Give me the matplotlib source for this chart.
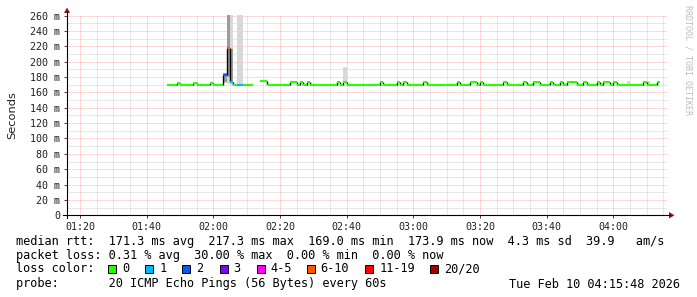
import numpy as np
import matplotlib
matplotlib.use('Agg')
import matplotlib.pyplot as plt
from matplotlib.patches import Rectangle, Polygon
from matplotlib.lines import Line2D

# ---------------- data ----------------
start_minute = 46          # minutes after 01:00 of first sample
median_ms = [
    170.3, 170.3, 170.3, 172.7, 170.3, 170.3, 170.3, 170.3, 172.7, 170.3,
    170.3, 170.3, 170.3, 172.7, 170.3, 170.3, 170.3,
    183.0, 217.3, 173.4,
    170.2, 170.2, 170.2, 170.2, 170.2, 170.2,
    np.nan, np.nan,
    174.5, 174.5,
    170.3, 170.3, 170.3, 170.3, 170.3, 170.3, 170.3,
    173.8, 173.8, 170.3, 173.8, 170.3, 173.8,
    170.3, 170.3, 170.3, 170.3, 170.3, 170.3, 170.3, 170.3,
    173.8, 170.3, 173.8,
    170.3, 170.3, 170.3, 170.3, 170.3, 170.3, 170.3, 170.3, 170.3, 170.3,
    173.8, 170.3, 170.3, 170.3, 170.3,
    173.8, 170.3, 173.8,
    170.3, 170.3, 170.3, 170.3, 170.3,
    173.8,
    170.3, 170.3, 170.3, 170.3, 170.3, 170.3, 170.3, 170.3, 170.3,
    173.8, 170.3, 170.3, 170.3,
    173.8, 173.8, 170.3, 173.8,
    170.3, 170.3, 170.3, 170.3, 170.3, 170.3,
    173.8, 170.3, 170.3, 170.3, 170.3, 170.3,
    173.8, 170.3, 170.3, 173.8, 173.8, 170.3, 170.3, 170.3,
    173.8, 170.3, 170.3, 173.8, 170.3,
    173.8, 173.8, 173.8, 170.3, 170.3,
    173.8, 170.3, 169.0, 169.0,
    173.8, 170.3, 173.8, 173.8, 170.3, 173.8,
    169.0, 169.0, 169.0,
    170.3, 170.3, 170.3, 170.3, 170.3,
    173.8, 169.0, 169.0, 169.0, 173.9,
]
loss_minutes = [63, 64, 65, 67, 68]
loss_counts = [2, 6, 1, 1, 1]

smoke_minutes = [63, 64, 65, 67, 68, 99, 184, 190]
smoke_min = [172.5, 171.0, 170.0, 170.0, 170.0, 172.0, 169.0, 168.5]
smoke_max = [185.0, 400.0, 400.0, 400.0, 400.0, 193.0, 175.5, 174.5]
smoke_q_lo = [173.0, 180.0, 172.0, 170.0, 170.0, 173.5, 170.0, 169.0]
smoke_q_hi = [185.0, 400.0, 216.0, 170.5, 170.5, 174.0, 170.5, 169.5]

y_ticks = [0, 20, 40, 60, 80, 100, 120, 140, 160, 180, 200, 220, 240, 260]
x_ticks = [20, 40, 60, 80, 100, 120, 140, 160, 180]
x_tick_labels = ['01:20', '01:40', '02:00', '02:20', '02:40', '03:00',
                 '03:20', '03:40', '04:00']

loss_bins = ['0', '1', '2', '3', '4-5', '6-10', '11-19', '20/20']
loss_bin_colors = ['#26ff00', '#00b8ff', '#0059ff', '#7e00ff', '#ff00ff',
                   '#ff5500', '#ff0000', '#a00000']
loss_bin_upper = [0, 1, 2, 3, 5, 10, 19, 20]

legend_rtt = "median rtt:  171.3 ms avg  217.3 ms max  169.0 ms min  173.9 ms now  4.3 ms sd  39.9   am/s"
legend_loss = "packet loss: 0.31 % avg  30.00 % max  0.00 % min  0.00 % now"
legend_probe = "probe:       20 ICMP Echo Pings (56 Bytes) every 60s"
stamp = "Tue Feb 10 04:15:48 2026"

# ---------------- figure ----------------
W, H, DPI = 697, 297, 100
fig = plt.figure(figsize=(W / DPI, H / DPI), dpi=DPI, facecolor='white')

px_left, px_right, px_top, px_bottom = 67, 667, 15.3, 215.3
ax = fig.add_axes([px_left / W, (H - px_bottom) / H,
                   (px_right - px_left) / W, (px_bottom - px_top) / H])
ax.set_facecolor('white')
for s in ax.spines.values():
    s.set_visible(False)

XMIN, XMAX = 16.1, 196.1
mono = 'DejaVu Sans Mono'

# grid
for v in np.arange(10, 261, 10):
    major = (v % 20 == 0)
    ax.axhline(v, color=('#ff0000' if major else '#8a8a8a'),
               alpha=(0.3 if major else 0.38), lw=0.72,
               ls=(0, (1, 1)), zorder=0)
for v in np.arange(20, 196, 5):
    major = (v % 20 == 0)
    ax.axvline(v, color=('#ff0000' if major else '#8a8a8a'),
               alpha=(0.3 if major else 0.38), lw=0.72,
               ls=(0, (1, 1)), zorder=0)

# smoke
sm_t = np.array(smoke_minutes, dtype=float)
ax.bar(sm_t + 0.5, np.array(smoke_max) - np.array(smoke_min),
       bottom=smoke_min, width=1.0, color='#d8d8d8', lw=0, zorder=1)
ax.bar(sm_t + 0.5, np.array(smoke_q_hi) - np.array(smoke_q_lo),
       bottom=smoke_q_lo, width=1.0, color='#9c9c9c', lw=0, zorder=1)

# median line
med = np.array(median_ms, dtype=float)
t = start_minute + np.arange(len(med))
loss = np.zeros(len(med), dtype=int)
for m, c in zip(loss_minutes, loss_counts):
    loss[m - start_minute] = c


def loss_color(n):
    for up, col in zip(loss_bin_upper, loss_bin_colors):
        if n <= up:
            return col
    return loss_bin_colors[-1]


for i in range(len(med) - 1):
    if not np.isnan(med[i]) and not np.isnan(med[i + 1]) and med[i] != med[i + 1]:
        ax.plot([t[i] + 1, t[i] + 1], [med[i], med[i + 1]], color='black',
                lw=1.0, zorder=3, solid_capstyle='butt')
for i in range(len(med)):
    if np.isnan(med[i]):
        continue
    ax.plot([t[i], t[i] + 1], [med[i], med[i]], color=loss_color(loss[i]),
            lw=1.5, zorder=4, solid_capstyle='butt')

ax.set_xlim(XMIN, XMAX)
ax.set_ylim(0, 260.4)

ax.set_yticks(y_ticks)
ax.set_yticklabels(['0' if v == 0 else f'{v} m' for v in y_ticks],
                   fontfamily=mono, fontsize=7.2, color='#202020')
ax.set_xticks(x_ticks)
ax.set_xticklabels(x_tick_labels, fontfamily=mono, fontsize=7.2, color='#202020')
ax.tick_params(axis='both', length=2, width=0.7, color='#404040', pad=3)
ax.set_ylabel('Seconds', fontsize=8.2, fontfamily='DejaVu Sans', color='#202020',
              labelpad=2)
ax.yaxis.set_label_coords(-50 / 600, 0.5)

# ---------------- overlay in pixel coordinates ----------------
ov = fig.add_axes([0, 0, 1, 1], facecolor='none')
ov.set_xlim(0, W)
ov.set_ylim(H, 0)
ov.axis('off')

ov.add_line(Line2D([67, 67], [218, 11], color='black', lw=0.8))
ov.add_line(Line2D([63, 670], [215.3, 215.3], color='black', lw=0.8))
ov.add_patch(Polygon([[64, 13], [70, 13], [67, 7.5]], closed=True,
                     color='#8b1a1a', lw=0))
ov.add_patch(Polygon([[669, 212], [669, 218.5], [674.5, 215.3]], closed=True,
                     color='#8b1a1a', lw=0))

ov.text(688, 5, 'RRDTOOL / TOBI OETIKER', rotation=270, ha='center', va='top',
        fontfamily=mono, fontsize=6.0, color='#bdbdbd')

fs = 8.55
ov.text(16, 241, legend_rtt, fontfamily=mono, fontsize=fs, va='center', ha='left')
ov.text(16, 256, legend_loss, fontfamily=mono, fontsize=fs, va='center', ha='left')
ov.text(16, 269, 'loss color:', fontfamily=mono, fontsize=fs, va='center', ha='left')
box_x = [108, 145.3, 182.2, 219.6, 256.9, 306.7, 365.3, 430]
for bx, lab, col in zip(box_x, loss_bins, loss_bin_colors):
    ov.add_patch(Rectangle((bx, 264.5), 8, 8, facecolor=col, edgecolor='black',
                           lw=0.7))
    ov.text(bx + 14, 269, lab, fontfamily=mono, fontsize=fs, va='center', ha='left')
ov.text(16, 284, legend_probe, fontfamily=mono, fontsize=fs, va='center', ha='left')
ov.text(680, 284, stamp, fontfamily=mono, fontsize=fs, va='center', ha='right')

fig.savefig('out.png', dpi=DPI, facecolor='white')
